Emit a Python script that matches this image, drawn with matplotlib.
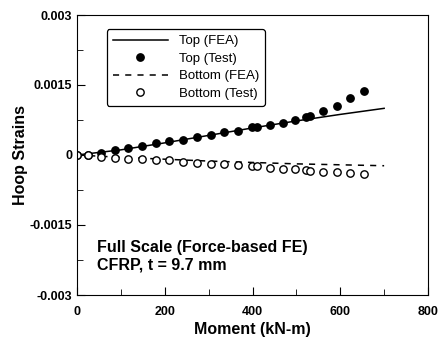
import matplotlib
matplotlib.use("Agg")
import matplotlib.pyplot as plt
from matplotlib.ticker import MultipleLocator, FixedLocator

plt.rcParams['font.family'] = ['Liberation Sans', 'DejaVu Sans']
plt.rcParams['font.weight'] = 'bold'

# test data (same moment levels for top and bottom gauges)
moment_test = [0, 24, 55, 86, 117, 148, 179, 210, 242, 274, 305, 336, 368, 399,
               411, 439, 469, 496, 521, 530, 561, 592, 623, 653]
top_test = [0, 1e-5, 5e-5, 1.1e-4, 1.5e-4, 2.0e-4, 2.6e-4, 3.1e-4, 3.2e-4, 3.9e-4,
            4.3e-4, 4.9e-4, 5.1e-4, 5.9e-4, 6.1e-4, 6.5e-4, 6.9e-4, 7.6e-4, 8.1e-4,
            8.3e-4, 9.5e-4, 1.04e-3, 1.22e-3, 1.37e-3]
bottom_test = [0, -1e-5, -4e-5, -6e-5, -8e-5, -9e-5, -1.0e-4, -1.1e-4, -1.4e-4, -1.7e-4,
               -1.9e-4, -2.0e-4, -2.1e-4, -2.3e-4, -2.4e-4, -2.7e-4, -2.9e-4, -3.0e-4,
               -3.2e-4, -3.4e-4, -3.6e-4, -3.7e-4, -3.9e-4, -4.1e-4]

# FEA curves
moment_fea = [0, 100, 200, 300, 400, 500, 600, 700]
top_fea = [0, 1.1e-4, 2.6e-4, 4.2e-4, 5.8e-4, 7.3e-4, 8.7e-4, 1.0e-3]
bottom_fea = [0, -5e-5, -9e-5, -1.3e-4, -1.6e-4, -1.9e-4, -2.1e-4, -2.3e-4]

fig = plt.figure(figsize=(4.41, 3.39), dpi=100)
ax = fig.add_axes([77 / 441, 1 - 295 / 339, 351 / 441, 280 / 339])

ax.plot(moment_fea, top_fea, color='black', lw=1.1, label='Top (FEA)')
ax.plot(moment_test, top_test, 'o', color='black', ms=5.3, label='Top (Test)')
ax.plot(moment_fea, bottom_fea, '--', color='black', lw=1.1, dashes=(4, 4),
        label='Bottom (FEA)')
ax.plot(moment_test, bottom_test, 'o', mfc='white', mec='black', mew=1.0, ms=5.3,
        label='Bottom (Test)')

ax.set_xlim(0, 800)
ax.set_ylim(-0.003, 0.003)
ax.xaxis.set_major_locator(MultipleLocator(200))
ax.xaxis.set_minor_locator(MultipleLocator(100))
ax.yaxis.set_major_locator(FixedLocator([-0.003, -0.0015, 0, 0.0015, 0.003]))
ax.yaxis.set_minor_locator(MultipleLocator(0.00075))
ax.set_yticklabels(['-0.003', '-0.0015', '0', '0.0015', '0.003'])
ax.tick_params(which='both', direction='in', labelsize=9, top=False, right=False)
ax.tick_params(which='major', length=6)
ax.tick_params(which='minor', length=4)
ax.tick_params(axis='x', pad=8)
for lab in ax.get_xticklabels() + ax.get_yticklabels():
    lab.set_fontweight('bold')

ax.set_xlabel('Moment (kN-m)', fontsize=11.5, fontweight='bold', labelpad=3)
ax.set_ylabel('Hoop Strains', fontsize=11.5, fontweight='bold', labelpad=1)

ax.text(0.057, 0.08, 'Full Scale (Force-based FE)\nCFRP, t = 9.7 mm',
        transform=ax.transAxes, fontsize=11.5, fontweight='bold', linespacing=1.25,
        va='bottom')

leg = ax.legend(loc='upper left', bbox_to_anchor=(0.085, 0.95), fontsize=9.5,
                frameon=True, fancybox=True, edgecolor='black', framealpha=1,
                markerfirst=True, handlelength=4.2, handletextpad=0.8,
                borderpad=0.45, labelspacing=0.4, borderaxespad=0)
leg.get_frame().set_linewidth(0.9)
for t in leg.get_texts():
    t.set_fontweight('normal')

fig.savefig('out.png', dpi=100)
